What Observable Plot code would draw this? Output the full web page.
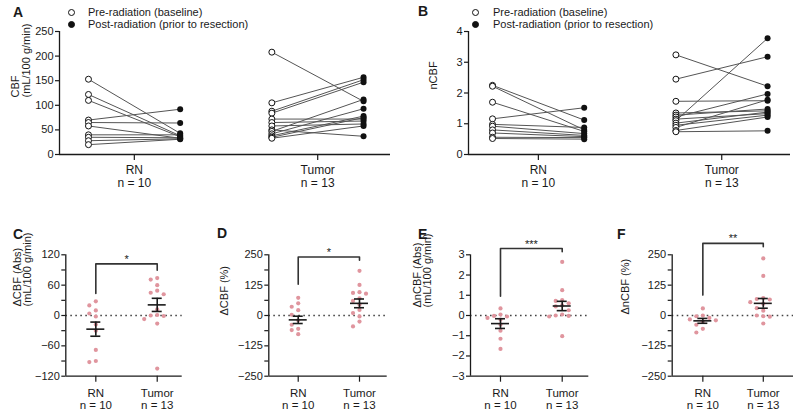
<!DOCTYPE html>
<html><head><meta charset="utf-8">
<script src="https://cdn.jsdelivr.net/npm/d3@7"></script>
<script src="https://cdn.jsdelivr.net/npm/@observablehq/plot@0.6"></script>
<style>
body{margin:0;background:#fff;font-family:"Liberation Sans",Arial,Helvetica,sans-serif;color:#1a1a1a}
#fig{position:relative;width:795px;height:412px;overflow:hidden;background:#fff}
.panel{position:absolute}
.letter{position:absolute;font-weight:bold;font-size:14px;line-height:14px}
.leg{position:absolute;font-size:11px;line-height:12px;white-space:nowrap}
.sym{position:absolute;width:5px;height:5px;border:1px solid #111;border-radius:50%}
</style></head><body><div id="fig"></div><script>
// ---------- data ----------
const groups = ["RN", "Tumor"];
const legendLabels = ["Pre-radiation (baseline)", "Post-radiation (prior to resection)"];
const panelLabels = ["A", "B", "C", "D", "E", "F"];
const sigLabels = ["*", "*", "***", "**"];

// A: CBF (mL/100 g/min), paired pre/post
const cbfRnPre = [153, 122, 110, 70, 65, 58, 40, 35, 28, 20];
const cbfRnPost = [43, 38, 36, 92, 64, 33, 40, 34, 32, 31];
const cbfTumorPre = [208, 105, 88, 84, 72, 65, 58, 50, 47, 42, 38, 35, 33];
const cbfTumorPost = [108, 157, 152, 147, 72, 68, 62, 37, 112, 93, 78, 75, 58];

// B: nCBF, paired pre/post
const ncbfRnPre = [2.25, 2.22, 1.70, 1.16, 0.98, 0.92, 0.80, 0.70, 0.56, 0.52];
const ncbfRnPost = [1.12, 0.80, 0.75, 1.52, 0.88, 0.68, 0.62, 0.58, 0.55, 0.50];
const ncbfTumorPre = [3.24, 2.45, 1.73, 1.35, 1.28, 1.22, 1.15, 1.10, 1.02, 0.95, 0.88, 0.78, 0.74];
const ncbfTumorPost = [2.22, 3.18, 1.75, 1.42, 1.48, 1.97, 1.33, 3.78, 1.38, 1.28, 1.78, 1.22, 0.77];

// C: ΔCBF (Abs)
const dCbfAbsRn = [28, 20, 10, 4, -2, -18, -30, -68, -92, -90];
const dCbfAbsTumor = [74, 71, 60, 49, 45, 42, 12, 1, 0, -1, -7, -16, -105];
const dCbfAbsMean = [-27, 21];
const dCbfAbsSem = [14, 13];

// D: ΔCBF (%)
const dCbfPctRn = [73, 50, 36, 22, 3, -20, -38, -55, -60, -77];
const dCbfPctTumor = [184, 126, 96, 93, 90, 71, 60, 45, 23, 10, -4, -25, -45];
const dCbfPctMean = [-18, 50];
const dCbfPctSem = [15, 18];

// E: ΔnCBF (Abs)
const dNcbfAbsRn = [0.35, 0.05, -0.02, -0.05, -0.12, -0.2, -0.45, -0.75, -1.15, -1.65];
const dNcbfAbsTumor = [2.65, 1.25, 0.76, 0.72, 0.6, 0.5, 0.45, 0.26, 0.05, -0.02, -0.05, 0.0, -1.02];
const dNcbfAbsMean = [-0.4, 0.47];
const dNcbfAbsSem = [0.24, 0.23];

// F: ΔnCBF (%)
const dNcbfPctRn = [29, 0, -3, -10, -16, -20, -25, -38, -55, -70];
const dNcbfPctTumor = [235, 163, 72, 68, 66, 55, 48, 30, 20, 0, -3, -5, -33];
const dNcbfPctMean = [-22, 50];
const dNcbfPctSem = [10, 20];

// ---------- drawing ----------
const font = '"Liberation Sans", Arial, Helvetica, sans-serif';
const ink = "#1a1a1a";
const pink = "#e0959e";
const fmt = d3.format("d");
const fig = document.getElementById("fig");

function place(el, left, top) {
  el.style.left = left + "px"; el.style.top = top + "px"; fig.appendChild(el);
}
function div(cls, text) { const d = document.createElement("div"); d.className = cls; if (text != null) d.textContent = text; return d; }
const groupLabel = (gi, n) => `${groups[gi]}\nn = ${n}`;

function pairedPanel(cfg) {
  const rows = cfg.pre.flatMap((arr, gi) => arr.map((v, k) => ({g: gi, pre: v, post: cfg.post[gi][k]})));
  const plot = Plot.plot({
    width: cfg.width, height: cfg.height,
    marginLeft: cfg.ml, marginRight: cfg.mr, marginTop: cfg.mt, marginBottom: cfg.mb,
    style: {fontFamily: font, color: ink, background: "transparent", overflow: "visible"},
    x: {domain: cfg.xDomain, axis: null},
    y: {domain: cfg.yDomain, axis: null},
    marks: [
      Plot.ruleY([cfg.yDomain[0]], {stroke: ink, strokeWidth: 1.3}),
      Plot.ruleX([cfg.xDomain[0]], {stroke: ink, strokeWidth: 1.3}),
      Plot.axisY({ticks: cfg.yTicks, tickFormat: fmt, tickSize: 4, tickPadding: 2, fontSize: 11, label: null, strokeWidth: 1.2}),
      Plot.axisX({ticks: groups.map((g, i) => i * 2 + 0.5),
        tickFormat: d => groupLabel(Math.floor(d / 2), cfg.pre[Math.floor(d / 2)].length),
        tickSize: 6, tickPadding: 4.5, fontSize: 12, lineHeight: 1.08, label: null, strokeWidth: 1.2}),
      Plot.link(rows, {x1: d => d.g * 2, x2: d => d.g * 2 + 1, y1: "pre", y2: "post", stroke: "#555", strokeWidth: 1}),
      Plot.dot(rows, {x: d => d.g * 2, y: "pre", r: 3, fill: "white", stroke: "#111", strokeWidth: 1}),
      Plot.dot(rows, {x: d => d.g * 2 + 1, y: "post", r: 3, fill: "#111"}),
      Plot.text([cfg.yLabel], {text: d => d, frameAnchor: "left", rotate: -90,
        dx: cfg.labelX - cfg.ml, dy: cfg.labelDy, fontSize: 11, lineHeight: 0.97, fill: ink})
    ]
  });
  plot.classList.add("panel");
  place(plot, cfg.left, cfg.top);
}

function swarm(vals, pxPerY) {
  const col = 6.5, minDist = 5;
  const order = d3.range(vals.length).sort((a, b) => vals[b] - vals[a]);
  const placed = [];
  for (const i of order) {
    const yp = vals[i] * pxPerY;
    for (const c of [0, -1, 1, -2, 2, -3, 3]) {
      const xp = c * col;
      if (placed.every(p => Math.hypot(p.xp - xp, p.yp - yp) >= minDist)) { placed.push({v: vals[i], xp, yp}); break; }
    }
  }
  return placed;
}

function deltaPanel(cfg) {
  const pxPerY = (cfg.height - cfg.mt - cfg.mb) / (cfg.yDomain[1] - cfg.yDomain[0]);
  const pxPerX = (cfg.width - cfg.ml - cfg.mr) / (cfg.xDomain[1] - cfg.xDomain[0]);
  const dots = cfg.values.flatMap((vals, gi) => swarm(vals, pxPerY).map(p => ({v: p.v, x: gi + p.xp / pxPerX})));
  const stats = cfg.mean.map((m, gi) => ({g: gi, m, lo: m - cfg.sem[gi], hi: m + cfg.sem[gi]}));
  const hw = 9 / pxPerX, cw = 5 / pxPerX;
  const [legA, top, legB] = cfg.bracket;
  const bracket = [{x: 0, y: legA}, {x: 0, y: top}, {x: 1, y: top}, {x: 1, y: legB}];
  const plot = Plot.plot({
    width: cfg.width, height: cfg.height,
    marginLeft: cfg.ml, marginRight: cfg.mr, marginTop: cfg.mt, marginBottom: cfg.mb,
    style: {fontFamily: font, color: ink, background: "transparent", overflow: "visible"},
    x: {domain: cfg.xDomain, axis: null},
    y: {domain: cfg.yDomain, axis: null},
    marks: [
      Plot.ruleY([0], {stroke: "#444", strokeWidth: 1.5, strokeDasharray: "1.6,3.4"}),
      Plot.ruleY([cfg.yDomain[0]], {stroke: ink, strokeWidth: 1.3}),
      Plot.ruleX([cfg.xDomain[0]], {stroke: ink, strokeWidth: 1.3}),
      Plot.axisY({ticks: cfg.yTicks, tickFormat: fmt, tickSize: 4, tickPadding: 2, fontSize: 11, label: null, strokeWidth: 1.2}),
      Plot.axisY({ticks: cfg.minor, tickSize: 4, tickFormat: () => "", label: null, strokeWidth: 1.2}),
      Plot.axisX({ticks: [0, 1], tickFormat: d => groupLabel(d, cfg.values[d].length),
        tickSize: 6, tickPadding: 6.5, fontSize: 11.5, lineHeight: 1.02, label: null, strokeWidth: 1.2}),
      Plot.dot(dots, {x: "x", y: "v", r: 2.1, fill: pink}),
      Plot.ruleY(stats, {x1: d => d.g - hw, x2: d => d.g + hw, y: "m", stroke: ink, strokeWidth: 1.6}),
      Plot.ruleX(stats, {x: "g", y1: "lo", y2: "hi", stroke: ink, strokeWidth: 1.6}),
      Plot.ruleY(stats, {x1: d => d.g - cw, x2: d => d.g + cw, y: "lo", stroke: ink, strokeWidth: 1.6}),
      Plot.ruleY(stats, {x1: d => d.g - cw, x2: d => d.g + cw, y: "hi", stroke: ink, strokeWidth: 1.6}),
      Plot.line(bracket, {x: "x", y: "y", stroke: "#333", strokeWidth: 1.6}),
      Plot.text([cfg.sig], {x: () => 0.5, y: () => top, text: d => d, dy: -4.5, fontSize: 11, fill: ink}),
      Plot.text([cfg.yLabel], {text: d => d, frameAnchor: "left", rotate: -90,
        dx: cfg.labelX - cfg.ml, dy: cfg.labelDy, fontSize: 11, lineHeight: 0.97, fill: ink})
    ]
  });
  plot.classList.add("panel");
  place(plot, cfg.left, cfg.top);
}

pairedPanel({left: 0, top: 0, width: 395, height: 195, ml: 59, mr: 5, mt: 31, mb: 41,
  xDomain: [-0.316, 3.294], yDomain: [0, 250], yTicks: [0, 50, 100, 150, 200, 250],
  pre: [cbfRnPre, cbfTumorPre], post: [cbfRnPost, cbfTumorPost],
  yLabel: "CBF\n(mL/100 g/min)", labelX: 20.7, labelDy: 4.5});

pairedPanel({left: 400, top: 0, width: 395, height: 195, ml: 68, mr: 5, mt: 31, mb: 41,
  xDomain: [-0.262, 3.25], yDomain: [0, 4], yTicks: [0, 1, 2, 3, 4],
  pre: [ncbfRnPre, ncbfTumorPre], post: [ncbfRnPost, ncbfTumorPost],
  yLabel: "nCBF", labelX: 33, labelDy: -3.5});

const bottom = {top: 210, height: 202, mt: 44.3, mb: 36.3};
deltaPanel({...bottom, left: 0, width: 198, ml: 65.3, mr: 16.3, xDomain: [-0.489, 1.407],
  yDomain: [-120, 120], yTicks: [-120, -60, 0, 60, 120], minor: [-90, -30, 30, 90],
  values: [dCbfAbsRn, dCbfAbsTumor], mean: dCbfAbsMean, sem: dCbfAbsSem,
  bracket: [43.5, 102, 89.6], sig: sigLabels[0],
  yLabel: "\u0394CBF (Abs)\n(mL/100 g/min)", labelX: 22, labelDy: -9});
deltaPanel({...bottom, left: 198, width: 200, ml: 70.3, mr: 11.3, xDomain: [-0.48, 1.452],
  yDomain: [-250, 250], yTicks: [-250, -125, 0, 125, 250], minor: [-187.5, -62.5, 62.5, 187.5],
  values: [dCbfPctRn, dCbfPctTumor], mean: dCbfPctMean, sem: dCbfPctSem,
  bracket: [129, 241, 228], sig: sigLabels[1],
  yLabel: "\u0394CBF (%)", labelX: 26, labelDy: 0});
deltaPanel({...bottom, left: 400, width: 198, ml: 70, mr: 9.7, xDomain: [-0.486, 1.431],
  yDomain: [-3, 3], yTicks: [-3, -2, -1, 0, 1, 2, 3], minor: [],
  values: [dNcbfAbsRn, dNcbfAbsTumor], mean: dNcbfAbsMean, sem: dNcbfAbsSem,
  bracket: [0.95, 3.31, 3.15], sig: sigLabels[2],
  yLabel: "\u0394nCBF (Abs)\n(mL/100 g/min)", labelX: 22, labelDy: -8});
deltaPanel({...bottom, left: 598, width: 197, ml: 73.7, mr: 2, xDomain: [-0.507, 1.5],
  yDomain: [-250, 250], yTicks: [-250, -125, 0, 125, 250], minor: [-187.5, -62.5, 62.5, 187.5],
  values: [dNcbfPctRn, dNcbfPctTumor], mean: dNcbfPctMean, sem: dNcbfPctSem,
  bracket: [84, 297, 283], sig: sigLabels[3],
  yLabel: "\u0394nCBF (%)", labelX: 27, labelDy: -1});

// panel letters
[[13, 5], [418, 4], [13, 227], [217, 226], [418, 227], [617, 227]].forEach(([l, t], i) => place(div("letter", panelLabels[i]), l, t));

// legends for A and B
[[71, 88], [475, 493]].forEach(([cx, tx]) => {
  legendLabels.forEach((lab, i) => {
    const s = div("sym"); s.style.background = i === 0 ? "#fff" : "#111";
    place(s, cx - 3.5, 8.5 + i * 12);
    place(div("leg", lab), tx, 5.7 + i * 12);
  });
});
</script></body></html>
